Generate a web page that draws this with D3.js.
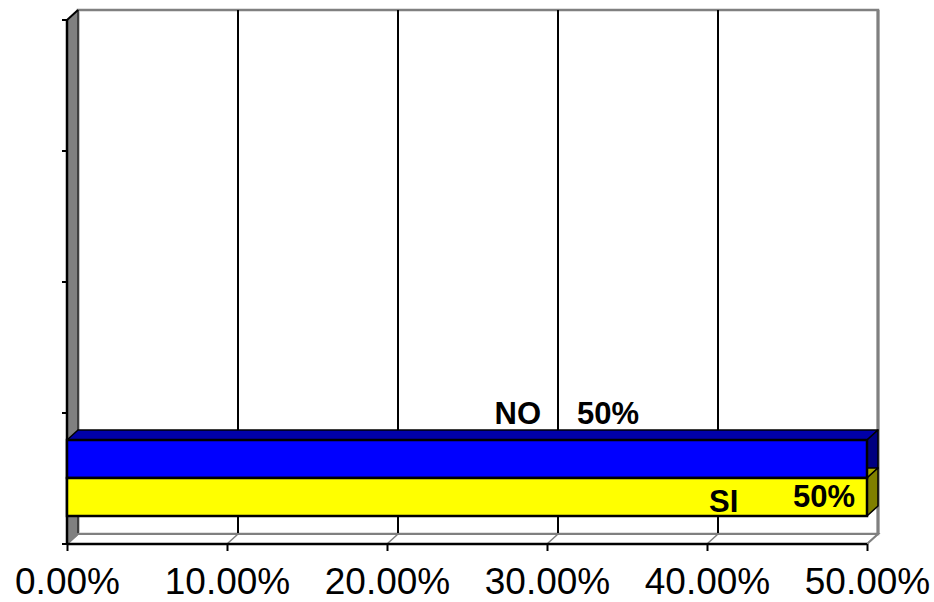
<!DOCTYPE html>
<html>
<head>
<meta charset="utf-8">
<script src="https://cdn.jsdelivr.net/npm/d3@7"></script>
<style>
  html, body { margin: 0; padding: 0; background: #fff; }
  svg { display: block; }
</style>
</head>
<body>
<svg id="chart" width="934" height="602"></svg>
<script>
// ---- data ----
const categories = ["c1", "c2", "c3", "c4"];          // category slots on the depth/vertical axis (labels hidden)
const seriesNames = ["NO", "SI"];
const seriesValues = [0.5, 0.5];                       // values for the first category
const seriesColors = ["#0000FF", "#FFFF00"];
const seriesTopColors = ["#0000A8", "#A8A800"];
const seriesSideColors = ["#000080", "#808000"];
const xTicks = [0, 0.1, 0.2, 0.3, 0.4, 0.5];

// ---- layout ----
const svg = d3.select("#chart");
const FONT = "'Liberation Sans', Arial, Helvetica, sans-serif";
const dx = 11, dy = -10;          // 3D depth offset
const x = d3.scaleLinear().domain([0, 0.5]).range([67, 867]);
const y = d3.scaleBand().domain(categories).range([544, 20]);
const inner = d3.scaleBand().domain(seriesNames).range([27, 103]);
const yTop = 20, yBot = 544, xL = x(0), xR = x(0.5);

svg.append("rect").attr("width", 934).attr("height", 602).attr("fill", "#fff");

// back wall
svg.append("rect")
  .attr("x", xL + dx).attr("y", yTop + dy)
  .attr("width", xR - xL).attr("height", yBot - yTop)
  .attr("fill", "#fff").attr("stroke", "#808080").attr("stroke-width", 2.5);

// back wall gridlines
svg.append("g").selectAll("line").data(xTicks.slice(1, -1)).join("line")
  .attr("x1", d => x(d) + dx).attr("x2", d => x(d) + dx)
  .attr("y1", yTop + dy).attr("y2", yBot + dy)
  .attr("stroke", "#000").attr("stroke-width", 2);

// left side wall
svg.append("path")
  .attr("d", `M${xL},${yTop}L${xL + dx},${yTop + dy}L${xL + dx},${yBot + dy}L${xL},${yBot}Z`)
  .attr("fill", "#808080").attr("stroke", "#000").attr("stroke-width", 1);
svg.append("line")
  .attr("x1", xL + dx + 1.5).attr("x2", xL + dx + 1.5)
  .attr("y1", yTop + dy + 1).attr("y2", yBot + dy)
  .attr("stroke", "#c8c8c8").attr("stroke-width", 1);

// floor
svg.append("path")
  .attr("d", `M${xL},${yBot}L${xL + dx},${yBot + dy}L${xR + dx},${yBot + dy}L${xR},${yBot}Z`)
  .attr("fill", "#fff").attr("stroke", "#808080").attr("stroke-width", 2);
svg.append("g").selectAll("line").data(xTicks).join("line")
  .attr("x1", d => x(d)).attr("x2", d => x(d) + dx)
  .attr("y1", yBot).attr("y2", yBot + dy)
  .attr("stroke", "#808080").attr("stroke-width", 1.5);

// right back edge
svg.append("line")
  .attr("x1", xR + dx).attr("x2", xR + dx)
  .attr("y1", yTop + dy).attr("y2", yBot + dy)
  .attr("stroke", "#808080").attr("stroke-width", 3);

// left (category) axis line + ticks
svg.append("line").attr("x1", xL).attr("x2", xL).attr("y1", yTop).attr("y2", yBot)
  .attr("stroke", "#000").attr("stroke-width", 2.5);
svg.append("line").attr("x1", xL).attr("x2", xL + dx).attr("y1", yTop).attr("y2", yTop + dy)
  .attr("stroke", "#000").attr("stroke-width", 2);
const catTicks = categories.map(c => y(c) + y.bandwidth()).concat([y(categories[categories.length - 1])]);
svg.append("g").selectAll("line").data(catTicks).join("line")
  .attr("x1", xL - 5).attr("x2", xL).attr("y1", d => d).attr("y2", d => d)
  .attr("stroke", "#000").attr("stroke-width", 2);

// bars (first category)
const cat = categories[0];
const bars = svg.append("g");
seriesNames.forEach((s, i) => {
  const y0 = y(cat) + inner(s), h = inner.bandwidth();
  const x0 = x(0), x1 = x(seriesValues[i]);
  bars.append("path")
    .attr("d", `M${x0},${y0}L${x0 + dx},${y0 + dy}L${x1 + dx},${y0 + dy}L${x1},${y0}Z`)
    .attr("fill", seriesTopColors[i]).attr("stroke", "#000").attr("stroke-width", 1.5).attr("stroke-linejoin", "round");
  bars.append("path")
    .attr("d", `M${x1},${y0}L${x1 + dx},${y0 + dy}L${x1 + dx},${y0 + h + dy}L${x1},${y0 + h}Z`)
    .attr("fill", seriesSideColors[i]).attr("stroke", "#000").attr("stroke-width", 1.5).attr("stroke-linejoin", "round");
});
seriesNames.forEach((s, i) => {
  const y0 = y(cat) + inner(s), h = inner.bandwidth();
  bars.append("rect")
    .attr("x", x(0)).attr("y", y0).attr("width", x(seriesValues[i]) - x(0)).attr("height", h)
    .attr("fill", seriesColors[i]).attr("stroke", "#000").attr("stroke-width", 2.5);
});

// x axis
svg.append("line").attr("x1", xL).attr("x2", xR).attr("y1", yBot).attr("y2", yBot)
  .attr("stroke", "#000").attr("stroke-width", 2.5);
const xAxis = d3.axisBottom(x).tickValues(xTicks).tickFormat(d3.format(".2%")).tickSize(7).tickPadding(17);
const gx = svg.append("g").attr("transform", `translate(0,${yBot})`).call(xAxis);
gx.select(".domain").remove();
gx.selectAll(".tick line").attr("stroke", "#000").attr("stroke-width", 2);
gx.selectAll(".tick text").attr("fill", "#000").style("font-family", FONT).style("font-size", "37px");

// data labels
const labels = svg.append("g").style("font-family", FONT).style("font-weight", "bold").style("font-size", "31px").attr("fill", "#000");
{
  const i = 0, y0 = y(cat) + inner(seriesNames[i]);
  const xv = x(seriesValues[i]);
  labels.append("text").attr("x", xv - 326).attr("y", y0 - 16).attr("text-anchor", "end").text(seriesNames[i]);
  labels.append("text").attr("x", xv - 290).attr("y", y0 - 16).text(d3.format(".0%")(seriesValues[i]));
}
{
  const i = 1, y0 = y(cat) + inner(seriesNames[i]);
  const xv = x(seriesValues[i]);
  labels.append("text").attr("x", xv - 158).attr("y", y0 + 34).text(seriesNames[i]);
  labels.append("text").attr("x", xv - 12).attr("y", y0 + 29).attr("text-anchor", "end").text(d3.format(".0%")(seriesValues[i]));
}
</script>
</body>
</html>
